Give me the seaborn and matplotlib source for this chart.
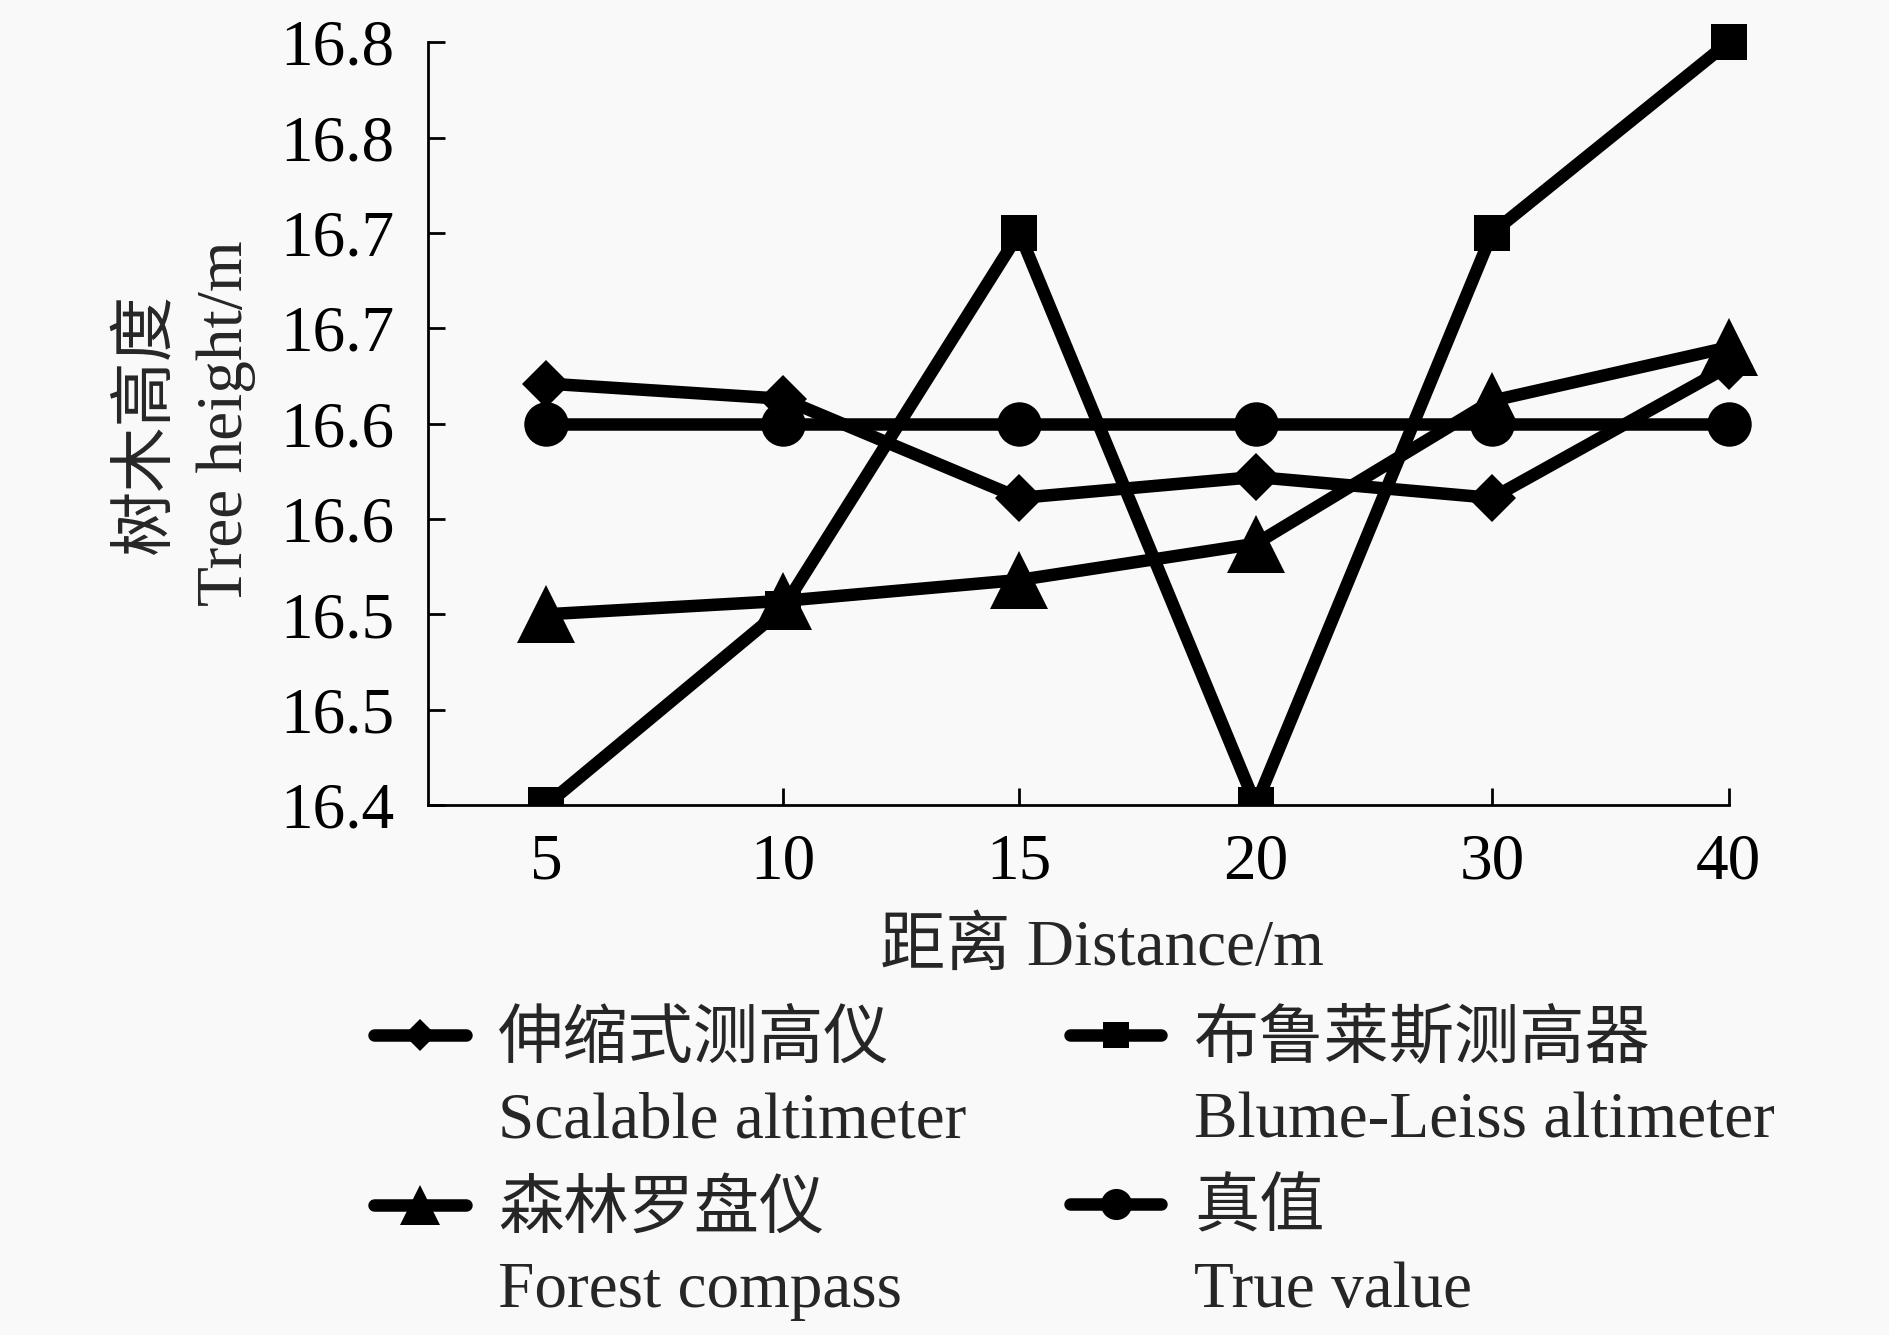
import numpy as np
import pandas as pd
import seaborn as sns
import matplotlib.pyplot as plt
from matplotlib.lines import Line2D

# Dati
distances = ["5", "10", "15", "20", "30", "40"]
scalable = [16.621, 16.613, 16.561, 16.572, 16.561, 16.630]
blume = [16.400, 16.503, 16.700, 16.400, 16.700, 16.800]
forest = [16.500, 16.507, 16.518, 16.537, 16.612, 16.640]
true_value = [16.600, 16.600, 16.600, 16.600, 16.600, 16.600]

series_cn = ["伸缩式测高仪", "布鲁莱斯测高器", "森林罗盘仪", "真值"]
series_en = ["Scalable altimeter", "Blume-Leiss altimeter", "Forest compass", "True value"]
yticks = [16.40, 16.45, 16.50, 16.55, 16.60, 16.65, 16.70, 16.75, 16.80]
ytick_labels = ["16.4", "16.5", "16.5", "16.6", "16.6", "16.7", "16.7", "16.8", "16.8"]

sns.set_style("ticks")
plt.rcParams["font.family"] = ["Liberation Serif", "Noto Sans CJK SC"]
plt.rcParams["axes.unicode_minus"] = False

FS = 47
BG = "#f9f9f9"

fig = plt.figure(figsize=(18.9, 13.35), dpi=100, facecolor=BG)
ax = fig.add_axes([0.2265, 0.397, 0.7132, 0.600])
ax.set_facecolor(BG)

pos = np.arange(len(distances))
styles = [
    (scalable, "D", 24),
    (blume, "s", 26),
    (forest, "^", 42),
    (true_value, "o", 32),
]
handles = []
for (vals, mk, ms), name in zip(styles, series_cn):
    sns.lineplot(x=pos, y=vals, ax=ax, color="black", linewidth=9,
                 marker=mk, markersize=ms, markeredgecolor="black",
                 markeredgewidth=0, legend=False)
    handles.append(Line2D([], [], color="black", linewidth=9, marker=mk,
                          markersize=ms * 0.7, markeredgewidth=0))

ax.set_xlim(-0.5, 5.2)
ax.set_ylim(16.4, 16.82)
ax.spines["left"].set_bounds(16.4, 16.8)
ax.spines["bottom"].set_bounds(-0.5, 5)
for s in ["top", "right"]:
    ax.spines[s].set_visible(False)
for s in ["left", "bottom"]:
    ax.spines[s].set_linewidth(2)
    ax.spines[s].set_color("black")

ax.set_xticks(pos)
ax.set_xticklabels(distances)
ax.set_yticks(yticks)
ax.set_yticklabels(ytick_labels)
ax.tick_params(axis="both", direction="in", length=12, width=2,
               labelsize=FS, colors="black")
ax.tick_params(axis="y", pad=24)
ax.tick_params(axis="x", pad=20)

ax.set_xlabel("距离 Distance/m", fontsize=FS, labelpad=19)
ax.set_ylabel("树木高度\nTree height/m", fontsize=FS, linespacing=1.4)
ax.yaxis.set_label_coords(-0.128, 0.5 * 0.4 / 0.42)

# la legenda si riempie per colonne: ordine per avere righe come nell'originale
order = [0, 2, 1, 3]
leg = fig.legend([handles[i] for i in order], [series_cn[i] for i in order],
                 ncol=2, loc="upper left",
                 bbox_to_anchor=(0.198, 0.243), frameon=False,
                 fontsize=FS, handlelength=1.4, handletextpad=0.5,
                 columnspacing=2.76, labelspacing=1.67,
                 borderpad=0, borderaxespad=0)

# testo inglese sotto ogni voce della legenda
fig.canvas.draw()
W, H = fig.bbox.width, fig.bbox.height
for t, i in zip(leg.get_texts(), order):
    bb = t.get_window_extent()
    cy = (bb.y0 + bb.y1) / 2
    fig.text(bb.x0 / W, (cy - 96) / H, series_en[i], fontsize=FS,
             va="baseline", ha="left")

fig.savefig("out.png", dpi=100, facecolor=BG)
